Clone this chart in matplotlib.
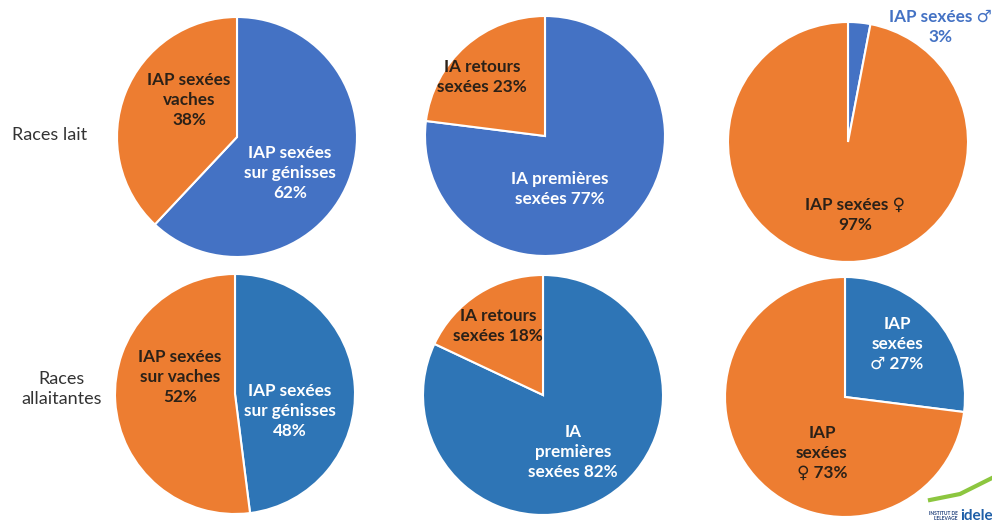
import matplotlib.pyplot as plt

plt.rcParams['font.family'] = ['Lato', 'DejaVu Sans']

# parts of sexed AI, blue share first then orange share
row_labels = ['Races lait', 'Races\nallaitantes']

lait_values = [[62, 38], [77, 23], [3, 97]]
lait_labels = [['IAP sexées\nsur génisses\n62%', 'IAP sexées\nvaches\n38%'],
               ['IA premières\nsexées 77%', 'IA retours\nsexées 23%'],
               ['IAP sexées ♂\n3%', 'IAP sexées ♀\n97%']]

allait_values = [[48, 52], [82, 18], [27, 73]]
allait_labels = [['IAP sexées\nsur génisses\n48%', 'IAP sexées\nsur vaches\n52%'],
                 ['IA\npremières\nsexées 82%', 'IA retours\nsexées 18%'],
                 ['IAP\nsexées\n♂ 27%', 'IAP\nsexées\n♀ 73%']]

W, H = 992, 526
blue_top = '#4472C4'
blue_bot = '#2E75B6'
orange = '#ED7D31'
dark = '#2b2118'

# pie centres (pixels, from top) and label positions
centers = [[(237, 137), (545, 136), (848, 142)],
           [(235, 394), (543, 395), (845, 397)]]
radius = 120
label_pos = [[[(290, 173), (189, 100)], [(560, 189), (482, 77)], [(940, 27), (855, 215)]],
             [[(290, 411), (180, 377)], [(573, 452), (498, 326)], [(897, 344), (822, 453)]]]
label_col = [[['white', dark], ['white', dark], [blue_top, dark]],
             [['white', dark], ['white', dark], ['white', dark]]]

fig = plt.figure(figsize=(W / 100, H / 100), dpi=100)
ax = fig.add_axes([0, 0, 1, 1])

rows = [(lait_values, lait_labels, blue_top), (allait_values, allait_labels, blue_bot)]
for r, (vals, labs, blue) in enumerate(rows):
    for c in range(3):
        cx, cy = centers[r][c]
        ax.pie(vals[c], colors=[blue, orange], startangle=90, counterclock=False,
               center=(cx, H - cy), radius=radius,
               wedgeprops=dict(edgecolor='white', linewidth=1.5))
        for k in range(2):
            lx, ly = label_pos[r][c][k]
            ax.text(lx, H - ly, labs[c][k], ha='center', va='center', fontsize=12.3,
                    fontweight='bold', color=label_col[r][c][k], linespacing=1.3)

ax.text(50, H - 135, row_labels[0], ha='center', va='center', fontsize=13, color='#333333')
ax.text(62, H - 389, row_labels[1], ha='center', va='center', fontsize=13,
        color='#333333', linespacing=1.3)

# logo
ax.text(958, H - 516, 'INSTITUT DE\nL\'ELEVAGE', ha='right', va='center', fontsize=3.5,
        color='#1f3f7a', fontweight='bold')
ax.text(960, H - 516, 'idele', ha='left', va='center', fontsize=11,
        color='#1f5fa8', fontweight='bold')
ax.plot([930, 960, 992], [H - 500, H - 494, H - 478], color='#8cc63f', lw=3)

ax.set_xlim(0, W)
ax.set_ylim(0, H)
ax.set_aspect('equal')
ax.axis('off')

fig.savefig('out.png', dpi=100, facecolor='white')
